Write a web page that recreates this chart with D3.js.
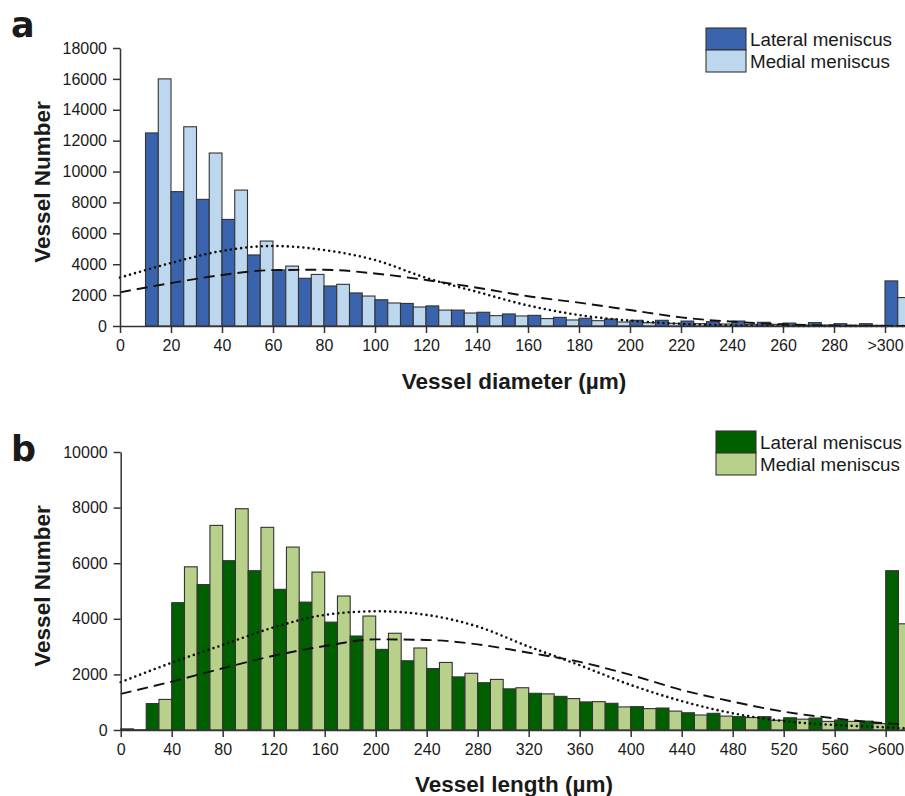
<!DOCTYPE html>
<html>
<head>
<meta charset="utf-8">
<script src="https://cdn.jsdelivr.net/npm/d3@7"></script>
<style>
  html, body { margin: 0; padding: 0; background: #fff; }
  svg { display: block; }
  text { font-family: "Liberation Sans", Arial, sans-serif; fill: #1a1a1a; }
</style>
</head>
<body>
<svg id="chart" width="905" height="796"></svg>
<script>
// ---- Panel a: vessel diameter (bin start, µm; last bin is ">300") ----
const diameterBins = [10, 20, 30, 40, 50, 60, 70, 80, 90, 100, 110, 120, 130, 140, 150,
                      160, 170, 180, 190, 200, 210, 220, 230, 240, 250, 260, 270, 280, 290, 300];
const diameterLateral = [12500, 8700, 8200, 6900, 4600, 3630, 3090, 2590, 2140, 1700, 1460, 1300, 1030, 890, 780,
                         690, 560, 500, 450, 370, 370, 320, 280, 320, 240, 190, 220, 150, 150, 2920];
const diameterMedial = [16000, 12900, 11200, 8800, 5500, 3880, 3340, 2700, 1940, 1490, 1230, 1030, 840, 670, 650,
                        480, 390, 345, 260, 215, 175, 150, 130, 110, 110, 65, 65, 45, 45, 1840];
const diameterTicks = [0, 20, 40, 60, 80, 100, 120, 140, 160, 180, 200, 220, 240, 260, 280, 300];
const diameterTickLabels = ["0", "20", "40", "60", "80", "100", "120", "140", "160", "180", "200", "220", "240", "260", "280", ">300"];
const diameterYTicks = [0, 2000, 4000, 6000, 8000, 10000, 12000, 14000, 16000, 18000];

// fitted distribution curves, panel a
const diameterFitX = [0, 20, 40, 60, 80, 100, 120, 140, 160, 180, 200, 220, 240, 260, 280, 300, 310];
const diameterFitDotted = [3130, 4080, 4860, 5180, 4920, 4270, 3120, 2210, 1330, 710, 345, 140, 40, 10, 0, 0, 0];
const diameterFitDashed = [2180, 2780, 3300, 3620, 3640, 3400, 2980, 2480, 1930, 1510, 1036, 560, 280, 110, 30, 5, 0];

// ---- Panel b: vessel length (bin start, µm; last bin is ">600") ----
const lengthBins = [0, 20, 40, 60, 80, 100, 120, 140, 160, 180, 200, 220, 240, 260, 280, 300,
                    320, 340, 360, 380, 400, 420, 440, 460, 480, 500, 520, 540, 560, 580, 600];
const lengthLateral = [40, 950, 4580, 5230, 6090, 5730, 5060, 4600, 3880, 3380, 2900, 2490, 2210, 1910, 1700, 1480,
                       1320, 1210, 1010, 960, 840, 790, 620, 600, 480, 480, 440, 430, 360, 320, 5730];
const lengthMedial = [10, 1100, 5870, 7360, 7960, 7290, 6580, 5680, 4820, 4100, 3480, 2950, 2430, 2040, 1820, 1520,
                      1300, 1130, 1020, 830, 770, 680, 540, 500, 450, 350, 390, 310, 310, 230, 3820];
const lengthTicks = [0, 40, 80, 120, 160, 200, 240, 280, 320, 360, 400, 440, 480, 520, 560, 600];
const lengthTickLabels = ["0", "40", "80", "120", "160", "200", "240", "280", "320", "360", "400", "440", "480", "520", "560", ">600"];
const lengthYTicks = [0, 2000, 4000, 6000, 8000, 10000];

// fitted distribution curves, panel b
const lengthFitX = [0, 40, 80, 120, 160, 200, 240, 280, 320, 360, 400, 440, 480, 520, 560, 600, 620];
const lengthFitDotted = [1720, 2420, 3060, 3690, 4140, 4270, 4140, 3720, 3000, 2330, 1620, 1040, 600, 320, 180, 96, 48];
const lengthFitDashed = [1300, 1740, 2220, 2670, 3020, 3260, 3240, 3080, 2780, 2450, 1980, 1440, 1020, 660, 420, 240, 190];

const seriesNames = ["Lateral meniscus", "Medial meniscus"];

const svg = d3.select("#chart");

function drawPanel(cfg) {
  const g = svg.append("g");
  const x = d3.scaleLinear().domain(cfg.xDomain).range(cfg.xRange);
  const y = d3.scaleLinear().domain(cfg.yDomain).range(cfg.yRange);
  const half = cfg.binWidth / 2;

  // bars: lateral in first half of each bin, medial in the second half
  const barData = [];
  cfg.bins.forEach((b, i) => {
    barData.push({ x0: b, x1: b + half, v: cfg.lateral[i], c: cfg.colors[0] });
    barData.push({ x0: b + half, x1: b + cfg.binWidth, v: cfg.medial[i], c: cfg.colors[1] });
  });
  g.append("g").selectAll("rect").data(barData).join("rect")
    .attr("x", d => x(d.x0))
    .attr("width", d => x(d.x1) - x(d.x0))
    .attr("y", d => y(d.v))
    .attr("height", d => y(0) - y(d.v))
    .attr("fill", d => d.c)
    .attr("stroke", "#333")
    .attr("stroke-width", 1.1);

  // fitted curves
  const line = d3.line().x(d => x(d[0])).y(d => y(d[1])).curve(d3.curveMonotoneX);
  g.append("path")
    .datum(cfg.fitX.map((v, i) => [v, cfg.fitDashed[i]]))
    .attr("d", line).attr("fill", "none").attr("stroke", "#111")
    .attr("stroke-width", 1.9).attr("stroke-dasharray", "11,6");
  g.append("path")
    .datum(cfg.fitX.map((v, i) => [v, cfg.fitDotted[i]]))
    .attr("d", line).attr("fill", "none").attr("stroke", "#111")
    .attr("stroke-width", 2.6).attr("stroke-linecap", "round").attr("stroke-dasharray", "0,5.2");

  // y axis
  const yAxis = g.append("g")
    .attr("transform", `translate(${cfg.xRange[0]},0)`)
    .call(d3.axisLeft(y).tickValues(cfg.yTicks).tickFormat(d3.format("d")).tickSize(7).tickPadding(6).tickSizeOuter(0));
  yAxis.select(".domain").attr("stroke", "#333").attr("stroke-width", 1.5);
  yAxis.selectAll(".tick line").attr("stroke", "#333").attr("stroke-width", 1.5);
  yAxis.selectAll(".tick text").style("font-size", "16px").attr("fill", "#1a1a1a");

  // x axis
  const xAxis = g.append("g")
    .attr("transform", `translate(0,${cfg.yRange[0]})`)
    .call(d3.axisBottom(x).tickValues(cfg.xTicks)
      .tickFormat((d, i) => cfg.xTickLabels[i]).tickSize(7).tickPadding(7).tickSizeOuter(0));
  xAxis.select(".domain").attr("stroke", "#333").attr("stroke-width", 1.5);
  xAxis.selectAll(".tick line").attr("stroke", "#333").attr("stroke-width", 1.5);
  xAxis.selectAll(".tick text").style("font-size", "16px").attr("fill", "#1a1a1a");

  // axis titles
  g.append("text")
    .attr("transform", `translate(${cfg.yTitleX},${(cfg.yRange[0] + cfg.yRange[1]) / 2 - 5}) rotate(-90)`)
    .attr("text-anchor", "middle").attr("dominant-baseline", "central")
    .style("font-size", "22.5px").style("font-weight", "bold")
    .text("Vessel Number");
  g.append("text")
    .attr("x", 514).attr("y", cfg.xTitleY)
    .attr("text-anchor", "middle")
    .style("font-size", "22.5px").style("font-weight", "bold")
    .text(cfg.xTitle);

  // panel letter
  g.append("text")
    .attr("x", 11).attr("y", cfg.letterY)
    .style("font-family", "'DejaVu Sans', sans-serif")
    .style("font-size", "35px").style("font-weight", "bold")
    .text(cfg.letter);

  // legend
  const lg = g.append("g").attr("transform", `translate(${cfg.legend[0]},${cfg.legend[1]})`);
  seriesNames.forEach((name, i) => {
    lg.append("rect")
      .attr("x", 0).attr("y", i * 22).attr("width", 40).attr("height", 22)
      .attr("fill", cfg.colors[i]).attr("stroke", "#333").attr("stroke-width", 1.1);
    lg.append("text")
      .attr("x", 44).attr("y", i * 22 + 11)
      .attr("dominant-baseline", "central")
      .style("font-size", "18.8px")
      .text(name);
  });
}

drawPanel({
  letter: "a", letterY: 37,
  bins: diameterBins, lateral: diameterLateral, medial: diameterMedial, binWidth: 10,
  xDomain: [0, 310], xRange: [120, 120 + 310 * 2.55],
  yDomain: [0, 18000], yRange: [326, 48],
  xTicks: diameterTicks, xTickLabels: diameterTickLabels, yTicks: diameterYTicks,
  fitX: diameterFitX, fitDotted: diameterFitDotted, fitDashed: diameterFitDashed,
  colors: ["#3a63ad", "#bdd7ee"],
  yTitleX: 42, xTitle: "Vessel diameter (µm)", xTitleY: 389,
  legend: [706, 28]
});

drawPanel({
  letter: "b", letterY: 461,
  bins: lengthBins, lateral: lengthLateral, medial: lengthMedial, binWidth: 20,
  xDomain: [0, 620], xRange: [120.7, 120.7 + 620 * 1.275],
  yDomain: [0, 10000], yRange: [730, 452],
  xTicks: lengthTicks, xTickLabels: lengthTickLabels, yTicks: lengthYTicks,
  fitX: lengthFitX, fitDotted: lengthFitDotted, fitDashed: lengthFitDashed,
  colors: ["#006000", "#b7d08a"],
  yTitleX: 42, xTitle: "Vessel length (µm)", xTitleY: 792,
  legend: [716, 431]
});
</script>
</body>
</html>
